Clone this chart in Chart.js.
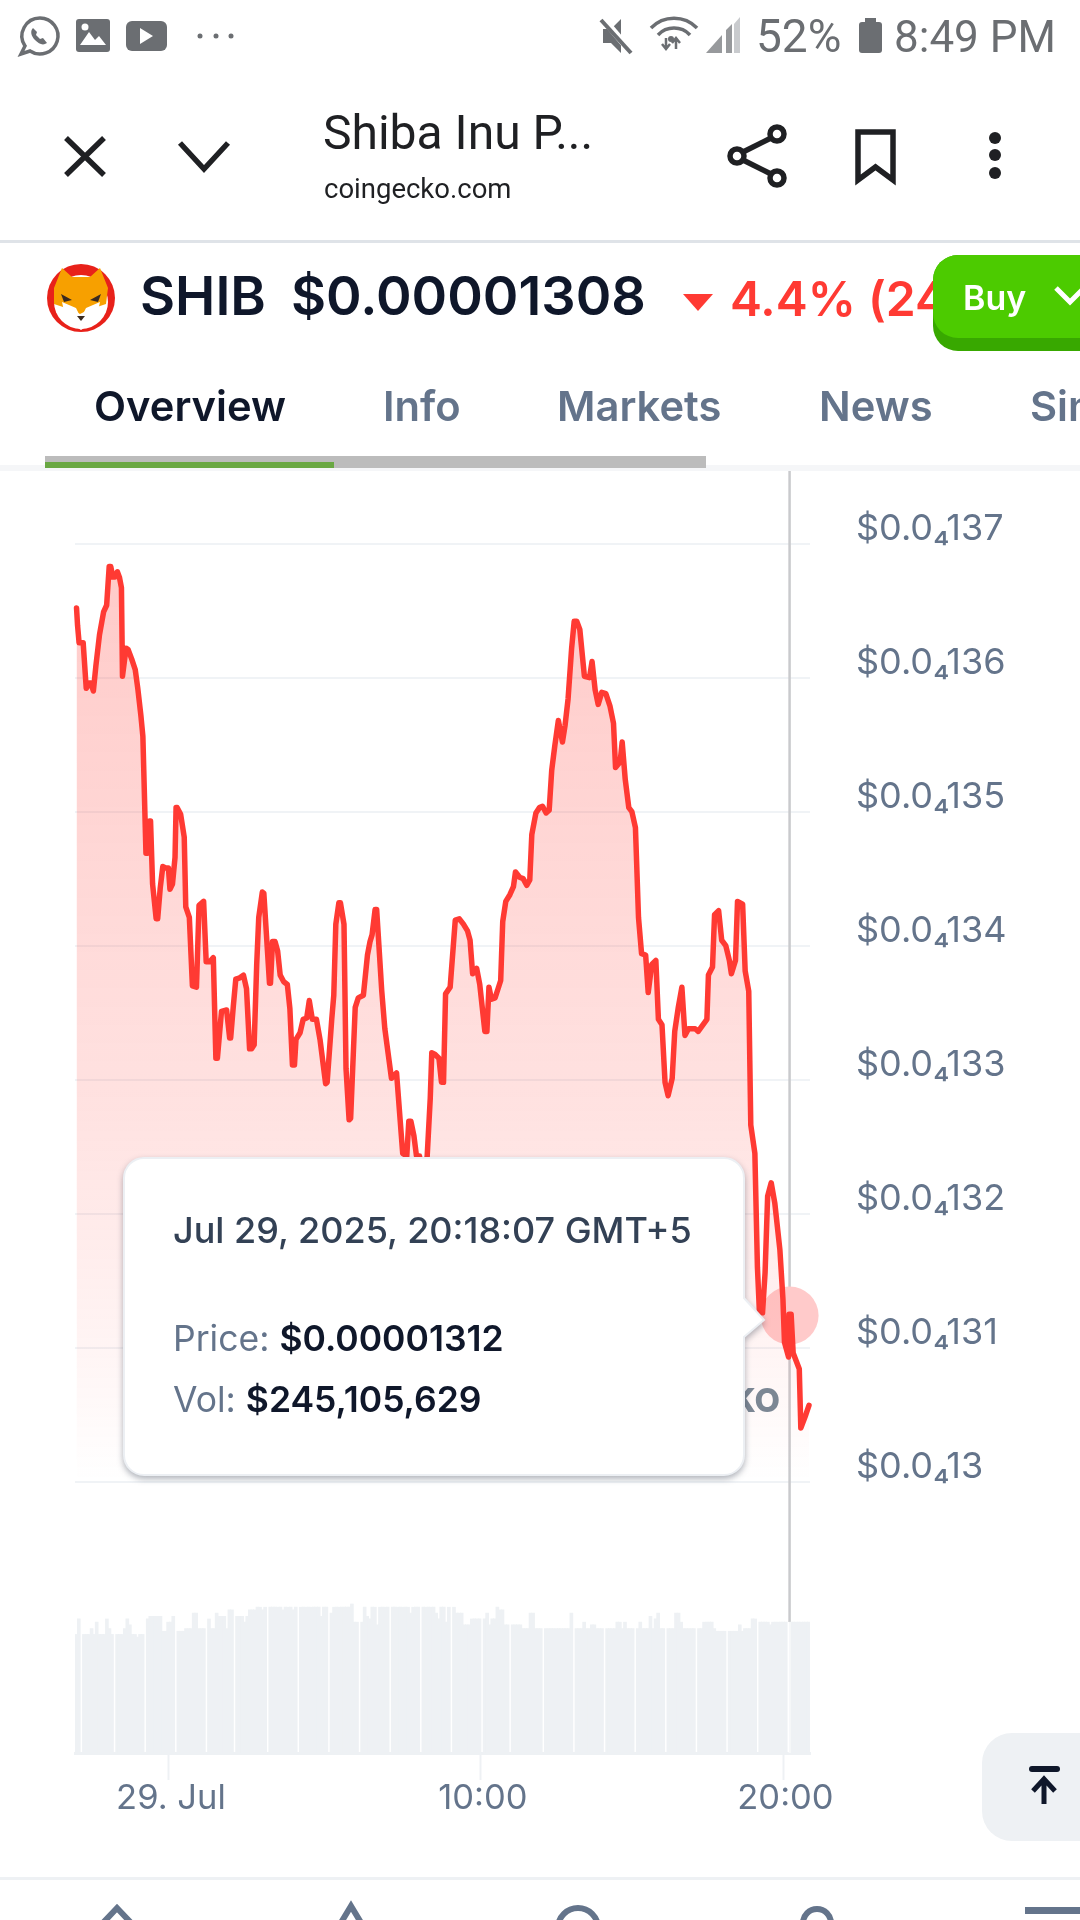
<!DOCTYPE html>
<html>
<head>
<meta charset="utf-8">
<title>SHIB chart</title>
<script src="https://cdn.jsdelivr.net/npm/chart.js@4"></script>
<style>
  html, body { margin: 0; padding: 0; background: #fff; }
  #page { position: relative; width: 1080px; height: 1920px; overflow: hidden; background: #fff; }
  #price-chart { position: absolute; left: 0; top: 470px; }
  #chrome { position: absolute; left: 0; top: 0; }
  #chrome text { font-family: Inter, sans-serif; }
  #chrome .sys { font-family: Roboto, sans-serif; }
  .tip { filter: drop-shadow(0 3px 3px rgba(30, 41, 59, 0.35)); }
</style>
</head>
<body>
<div id="page">
  <canvas id="price-chart" width="1080" height="1370"></canvas>
  <svg id="chrome" width="1080" height="1920" viewBox="0 0 1080 1920">
    <!-- status bar -->
    <g fill="#6b6e72">
      <path d="M40 18a18 18 0 0 0-15 28l-4 8 9-3a18 18 0 1 0 10-33z" fill="none" stroke="#6b6e72" stroke-width="3.5"/>
      <path d="M33 28c-3 3-2 8 2 12s8 6 12 3l-4-5-3 1-4-4 1-3z"/>
      <rect x="76" y="19" width="34" height="33" rx="3"/>
      <rect x="126" y="21" width="41" height="30" rx="6"/>
      <circle cx="200" cy="36" r="2.500"/><circle cx="216" cy="36" r="2.500"/><circle cx="231" cy="36" r="2.500"/>
      <path d="M603 29h8l10-10v34l-10-10h-8z"/>
      <path d="M706 53l16-18v18zM726 30l6-6v29h-6z" opacity="0.7"/>
      <path d="M734 24l6-7v36h-6z" fill="#c9cbce"/>
      <rect x="859" y="22" width="23" height="31" rx="3"/>
      <rect x="865" y="18" width="11" height="5"/>
      <path d="M666 38v10M662 44l4 5 4-5M676 49v-10M672 43l4-5 4 5" fill="none" stroke="#6b6e72" stroke-width="2.500"/>
    </g>
    <path d="M80 45l9-13 6 8 4-4 7 9z" fill="#fff"/>
    <circle cx="85" cy="27" r="3.500" fill="#fff"/>
    <path d="M140 28l13 8-13 8z" fill="#fff"/>
    <path d="M604 20l28 33" stroke="#fff" stroke-width="7"/>
    <path d="M601 20l30 33" stroke="#6b6e72" stroke-width="4"/>
    <g fill="none" stroke="#6b6e72" stroke-width="3.500">
      <path d="M651 28a32 32 0 0 1 46 0M658 35a22 22 0 0 1 32 0"/>
    </g>
    <circle cx="671" cy="39" r="3" fill="#6b6e72"/>
    <text class="sys" x="756" y="52" font-size="46" fill="#6b6e72">52%</text>
    <text class="sys" x="894" y="52" font-size="44" fill="#6b6e72">8:49 PM</text>

    <!-- browser header -->
    <g fill="none" stroke="#1f2023" stroke-width="5.500">
      <path d="M66 138l38 37M104 138l-38 37"/>
      <path d="M180 143l24 26 24-26"/>
      <circle cx="777" cy="134" r="7"/><circle cx="737" cy="156" r="7"/><circle cx="777" cy="178" r="7"/>
      <path d="M771 138l-28 14M743 160l28 14"/>
      <path d="M858 132h35v48l-17.500-13-17.500 13z"/>
    </g>
    <circle cx="995" cy="138" r="6" fill="#1f2023"/><circle cx="995" cy="155" r="6" fill="#1f2023"/><circle cx="995" cy="173" r="6" fill="#1f2023"/>
    <text class="sys" x="323" y="149" font-size="48" fill="#1f2023">Shiba Inu P...</text>
    <text class="sys" x="324" y="198" font-size="27.500" fill="#1f2023">coingecko.com</text>
    <rect x="0" y="240" width="1080" height="3" fill="#dfe3e8"/>

    <!-- coin row -->
    <circle cx="81" cy="298" r="34" fill="#e8211a"/>
    <circle cx="81" cy="302" r="27" fill="#fff"/>
    <path d="M54 288l8-20 10 9h18l10-9 8 20-2 16-18 6-8 4-8-4-18-6z" fill="#f7a000"/>
    <path d="M62 302l14 6 5 10 5-10 14-6-4 18-15 10-15-10z" fill="#fff"/>
    <path d="M61 294l11 6-8 2zM101 294l-11 6 8 2z" fill="#3a2a20"/>
    <path d="M77 316h8l-4 5z" fill="#3a2a20"/>
    <text x="140" y="315" font-size="54" font-weight="600" fill="#0f172a">SHIB</text>
    <text x="291" y="315" font-size="54" font-weight="600" fill="#0f172a">$0.00001308</text>
    <path d="M683 294h30l-15 17z" fill="#ff3a33"/>
    <text x="730" y="316" font-size="48" font-weight="600" fill="#ff3a33">4.4% (24h)</text>
    <path d="M1080 255h-122a25 25 0 0 0-25 25v46a25 25 0 0 0 25 25h122z" fill="#38a800"/>
    <path d="M1080 255h-122a25 25 0 0 0-25 25v33a25 25 0 0 0 25 25h122z" fill="#4ccb00"/>
    <text x="963" y="310" font-size="34" font-weight="600" fill="#fff">Buy</text>
    <path d="M1056 288l14 14 14-14" fill="none" stroke="#fff" stroke-width="5"/>

    <!-- tabs -->
    <text x="94" y="421" font-size="41.700" font-weight="600" fill="#0f172a">Overview</text>
    <text x="383" y="421" font-size="41.700" font-weight="600" fill="#64748b">Info</text>
    <text x="557" y="421" font-size="41.700" font-weight="600" fill="#64748b">Markets</text>
    <text x="819" y="421" font-size="41.700" font-weight="600" fill="#64748b">News</text>
    <text x="1030" y="421" font-size="41.700" font-weight="600" fill="#64748b">Similar</text>
    <rect x="0" y="465" width="1080" height="6" fill="#f5f6f8"/>
    <rect x="45" y="456" width="661" height="12" fill="#bcbcbc"/>
    <rect x="45" y="462" width="289" height="6" fill="#6aa843"/>

    <!-- watermark behind the tooltip -->
    <text x="780" y="1412" text-anchor="end" font-size="33" font-weight="800" fill="#7c8794">COINGECKO</text>

    <!-- tooltip -->
    <path class="tip" d="M144 1158H724a20 20 0 0 1 20 20V1298L764 1320 744 1337V1455a20 20 0 0 1-20 20H144a20 20 0 0 1-20-20V1178a20 20 0 0 1 20-20z" fill="#fff" stroke="#eceff3" stroke-width="2"/>
    <text x="173" y="1243" font-size="36" font-weight="500" fill="#334155">Jul 29, 2025, 20:18:07 GMT+5</text>
    <text x="173" y="1351" font-size="35.500" fill="#64748b">Price: <tspan font-weight="600" fill="#0f172a">$0.00001312</tspan></text>
    <text x="173" y="1412" font-size="35.500" fill="#64748b">Vol: <tspan font-weight="600" fill="#0f172a">$245,105,629</tspan></text>

    <!-- back to top button -->
    <path d="M1080 1733h-68a30 30 0 0 0-30 30v48a30 30 0 0 0 30 30h68z" fill="#eef1f4"/>
    <rect x="1029" y="1766" width="31" height="6" rx="3" fill="#0f172a"/>
    <path d="M1044 1804v-24M1033 1791l11-12 11 12" fill="none" stroke="#0f172a" stroke-width="5"/>

    <!-- bottom nav, cut off by the screen edge -->
    <rect x="0" y="1877" width="1080" height="3" fill="#eef1f4"/>
    <g fill="none" stroke="#64748b" stroke-width="6">
      <path d="M100 1926l17-18 17 18"/>
      <path d="M339 1926l12-20 12 20"/>
      <circle cx="578" cy="1928" r="20"/>
      <circle cx="817" cy="1923" r="14"/>
    </g>
    <rect x="1025" y="1907" width="55" height="7" fill="#64748b"/>
  </svg>
</div>

<script>
// Prices are in units of 0.0000001 USD, so 137 reads as $0.0₄137 on the axis.
// Minutes count from the left edge of the 24h window.
const priceMinutes = [
  3, 5, 8, 16, 22, 28, 31, 36, 41, 48, 56, 62, 67, 70, 74, 78, 83, 87, 91, 93,
  100, 104, 111, 118, 123, 129, 133, 139, 142, 146, 148, 152, 159, 162, 167, 172, 178, 183, 186, 191,
  196, 198, 200, 207, 214, 217, 224, 230, 238, 243, 252, 257, 264, 271, 276, 279, 287, 297, 303, 305,
  310, 315, 323, 330, 336, 342, 346, 351, 356, 360, 367, 370, 381, 383, 387, 392, 397, 402, 409, 416,
  421, 426, 430, 433, 441, 447, 454, 459, 465, 473, 480, 491, 494, 503, 507, 511, 517, 520, 527, 531,
  537, 540, 549, 555, 565, 573, 578, 582, 588, 591, 601, 607, 620, 630, 642, 650, 654, 658, 664, 669,
  675, 682, 690, 696, 699, 705, 713, 718, 722, 726, 735, 745, 753, 761, 769, 774, 779, 787, 793, 803,
  807, 811, 816, 823, 829, 834, 838, 844, 852, 859, 863, 871, 878, 885, 891, 895, 903, 910, 916, 923,
  929, 934, 940, 947, 955, 960, 966, 973, 978, 983, 989, 998, 1008, 1013, 1019, 1025, 1032, 1040, 1048, 1055,
  1059, 1068, 1072, 1078, 1085, 1091, 1098, 1104, 1110, 1118, 1123, 1130, 1138, 1143, 1150, 1156, 1162, 1170, 1175, 1182,
  1189, 1195, 1202, 1215, 1221, 1238, 1241, 1249, 1253, 1261, 1267, 1275, 1282, 1286, 1294, 1298, 1308, 1313, 1320, 1324,
  1332, 1337, 1341, 1347, 1352, 1357, 1364, 1371, 1381, 1387, 1390, 1398, 1399, 1403, 1407, 1419, 1422, 1430, 1438,
];
const prices = [
  136.52, 136.39, 136.26, 136.26, 135.92, 135.96, 135.96, 135.90, 136.09, 136.32, 136.49, 136.54, 136.83, 136.83, 136.75, 136.75, 136.79, 136.75, 136.67, 136.01,
  136.22, 136.21, 136.14, 136.06, 135.92, 135.72, 135.56, 134.69, 134.69, 134.93, 134.93, 134.46, 134.20, 134.20, 134.43, 134.59, 134.58, 134.58, 134.42, 134.46,
  134.66, 135.03, 135.03, 134.98, 134.81, 134.29, 134.21, 133.70, 133.69, 134.30, 134.33, 133.88, 133.88, 133.91, 133.16, 133.16, 133.51, 133.52, 133.31, 133.31,
  133.54, 133.75, 133.76, 133.78, 133.68, 133.23, 133.23, 133.26, 133.86, 134.21, 134.40, 134.39, 133.72, 133.72, 134.03, 134.03, 133.96, 133.78, 133.73, 133.71,
  133.53, 133.11, 133.11, 133.30, 133.35, 133.45, 133.46, 133.59, 133.45, 133.45, 133.30, 132.97, 132.98, 133.45, 133.63, 134.16, 134.32, 134.32, 134.16, 133.08,
  132.70, 132.71, 133.54, 133.61, 133.63, 133.93, 134.03, 134.08, 134.27, 134.27, 133.66, 133.38, 133.01, 133.05, 132.45, 132.43, 132.69, 132.69, 132.58, 132.43,
  132.43, 132.23, 132.43, 132.86, 133.20, 133.19, 133.16, 132.98, 132.98, 133.64, 133.69, 134.19, 134.20, 134.16, 134.11, 134.04, 133.79, 133.83, 133.71, 133.36,
  133.36, 133.69, 133.60, 133.61, 133.68, 133.74, 134.18, 134.33, 134.38, 134.44, 134.55, 134.51, 134.50, 134.45, 134.49, 134.83, 134.99, 135.03, 135.04, 134.99,
  135.01, 135.31, 135.49, 135.68, 135.52, 135.64, 135.84, 136.22, 136.42, 136.42, 136.36, 136.01, 136.00, 136.12, 135.91, 135.80, 135.89, 135.88, 135.79, 135.66,
  135.33, 135.37, 135.52, 135.24, 135.03, 135.00, 134.88, 134.21, 133.94, 133.93, 133.65, 133.86, 133.89, 133.45, 133.41, 132.98, 132.88, 133.01, 133.36, 133.54,
  133.69, 133.33, 133.38, 133.38, 133.36, 133.45, 133.78, 133.84, 134.23, 134.26, 134.04, 134.00, 133.89, 133.79, 133.89, 134.33, 134.31, 133.81, 133.66, 132.66,
  132.45, 131.60, 131.26, 131.26, 131.56, 132.13, 132.23, 132.08, 131.73, 131.36, 131.04, 130.93, 131.25, 131.25, 130.96, 130.84, 130.40, 130.48, 130.57,
];

// Five-minute volume in millions of USD. null where the picture shows no bar.
const volumes = [
  222, 251, null, 222, 222, 222, 233, 222, 245, 222, 222, 222, 251, 233, 222, null, 222, 222, 222, 233, 251, 240, 222, 222,
  217, 222, 222, null, 251, 256, 256, 256, 256, 256, 228, 228, 245, 245, 256, null, 228, 228, 228, 233, 233, 233, 262, 262,
  233, 233, 233, null, 251, 233, 233, 262, 256, 256, 256, 233, 268, 268, null, 256, 256, 256, 245, 256, 268, 268, 268, 273,
  273, 268, 273, null, 273, 273, 273, 273, 273, 268, 273, 273, 273, 268, 273, null, 273, 273, 273, 273, 273, 273, 273, 273,
  256, 273, 273, null, 262, 273, 273, 273, 273, 273, 273, 273, 279, 245, 245, null, 245, 273, 256, 251, 273, 273, 240, 273,
  273, 273, 273, null, 273, 273, 273, 273, 273, 273, 273, 262, 273, 273, 273, null, 273, 273, 273, 273, 273, 262, 251, 273,
  273, 245, 273, null, 273, 262, 262, 262, 240, 240, 240, 251, 251, 251, 251, null, 251, 262, 240, 251, 251, 273, 268, 268,
  240, 240, null, 240, 240, 240, 240, 233, 233, 233, 262, 262, 233, 233, 233, null, 233, 233, 233, 233, 233, 233, 233, 233,
  233, 233, 262, null, 233, 233, 233, 245, 233, 233, 240, 240, 233, 233, 233, null, 233, 233, 233, 233, 245, 245, 233, 245,
  233, 233, 233, null, 233, 245, 233, 233, 233, 256, 233, 251, 262, 233, 233, null, 233, 233, 233, 262, 262, 245, 233, 233,
  233, 233, 233, null, 233, 233, 245, 245, 245, 245, 233, 228, 228, 228, 228, null, 228, 228, 228, 228, 240, 228, 233, 233,
  233, 251, 251, null, 245, 245, 245, 245, 240, 245, 245, 245, 245, 245, 245, null, 245, 245, 245, 245, 245, 245, 245, 245,
];

const yTickValues = [130, 131, 132, 133, 134, 135, 136, 137];
const yTickLabels = ["13", "131", "132", "133", "134", "135", "136", "137"];
const xTickMinutes = [184, 795, 1388];
const xTickLabels = ["29. Jul", "10:00", "20:00"];
const hoverMinute = 1400;
const hoverPrice = 131.24;
const hoverVolume = 245.1;

const SLATE = "#64748b";
const RED = "#ff3a33";
const BAR_GREY = "#eef1f4";

function priceFill(context) {
  const { ctx, scales, chartArea } = context.chart;
  if (!chartArea) return "rgba(255, 58, 51, 0.2)";
  const top = scales.y.getPixelForValue(137);
  const bottom = scales.y.getPixelForValue(130);
  const gradient = ctx.createLinearGradient(0, top, 0, bottom);
  gradient.addColorStop(0, "rgba(255, 58, 51, 0.27)");
  gradient.addColorStop(0.6, "rgba(255, 58, 51, 0.15)");
  gradient.addColorStop(1, "rgba(255, 58, 51, 0)");
  return gradient;
}

// crosshair: solid above the volume bars, faint where it runs through them
const crosshair = {
  id: "crosshair",
  beforeDatasetsDraw(chart) {
    const { ctx, scales } = chart;
    const x = scales.x.getPixelForValue(hoverMinute);
    ctx.save();
    ctx.strokeStyle = "#c9cacd";
    ctx.lineWidth = 2.5;
    ctx.beginPath();
    ctx.moveTo(x, 0);
    ctx.lineTo(x, scales.yVol.getPixelForValue(hoverVolume));
    ctx.stroke();
    ctx.restore();
  },
  afterDatasetsDraw(chart) {
    const { ctx, scales, chartArea } = chart;
    const x = scales.x.getPixelForValue(hoverMinute);
    ctx.save();
    ctx.strokeStyle = "rgba(255, 255, 255, 0.5)";
    ctx.lineWidth = 2.5;
    ctx.beginPath();
    ctx.moveTo(x, scales.yVol.getPixelForValue(hoverVolume));
    ctx.lineTo(x, chartArea.bottom);
    ctx.stroke();
    ctx.restore();
  },
};

new Chart(document.getElementById("price-chart").getContext("2d"), {
  type: "line",
  plugins: [crosshair],
  data: {
    datasets: [
      {
        data: priceMinutes.map((m, i) => ({ x: m, y: prices[i] })),
        borderColor: RED,
        backgroundColor: priceFill,
        borderWidth: 5.5,
        borderJoinStyle: "round",
        borderCapStyle: "round",
        pointRadius: 0,
        tension: 0,
        fill: "start",
        clip: false,
        order: 1,
      },
      {
        data: [{ x: hoverMinute, y: hoverPrice }],
        showLine: false,
        pointRadius: 29,
        pointBackgroundColor: "#ffcaca",
        pointBorderWidth: 0,
        clip: false,
        order: 2,
      },
      {
        type: "bar",
        data: volumes.map((v, i) => ({ x: 5 * i + 2.5, y: v })),
        yAxisID: "yVol",
        backgroundColor: BAR_GREY,
        barThickness: 3,
        order: 3,
      },
    ],
  },
  options: {
    responsive: false,
    animation: false,
    events: [],
    layout: { padding: { left: 75, top: 10, right: 0, bottom: 0 } },
    plugins: {
      legend: { display: false },
      tooltip: { enabled: false },
    },
    scales: {
      x: {
        type: "linear",
        min: 0,
        max: 1440,
        offset: false,
        afterBuildTicks: (scale) => {
          scale.ticks = xTickMinutes.map((m) => ({ value: m }));
        },
        afterFit: (scale) => {
          scale.height = 87;
          scale.paddingLeft = 0;
          scale.paddingRight = 0;
        },
        border: { color: BAR_GREY, width: 3 },
        grid: {
          offset: false,
          drawOnChartArea: false,
          tickLength: 27,
          tickColor: BAR_GREY,
          tickWidth: 2,
        },
        ticks: {
          autoSkip: false,
          maxRotation: 0,
          padding: -2,
          labelOffset: 2,
          color: SLATE,
          font: { family: "Inter", size: 34.5 },
          callback: (value, index) => xTickLabels[index],
        },
      },
      y: {
        position: "right",
        min: 127.975,
        max: 137.333,
        afterBuildTicks: (scale) => {
          scale.ticks = yTickValues.map((v) => ({ value: v }));
        },
        afterFit: (scale) => {
          scale.width = 270;
          scale.paddingTop = 0;
          scale.paddingBottom = 0;
        },
        border: { display: false },
        grid: { color: "#f0f3f6", lineWidth: 2, drawTicks: false },
        ticks: {
          padding: 46,
          labelOffset: -14,
          color: SLATE,
          font: { family: "Inter", size: 36 },
          callback: (value, index) => "$0.0₄" + yTickLabels[index],
        },
      },
      yVol: {
        display: false,
        min: 0,
        max: 2348,
      },
    },
  },
});
</script>
</body>
</html>
